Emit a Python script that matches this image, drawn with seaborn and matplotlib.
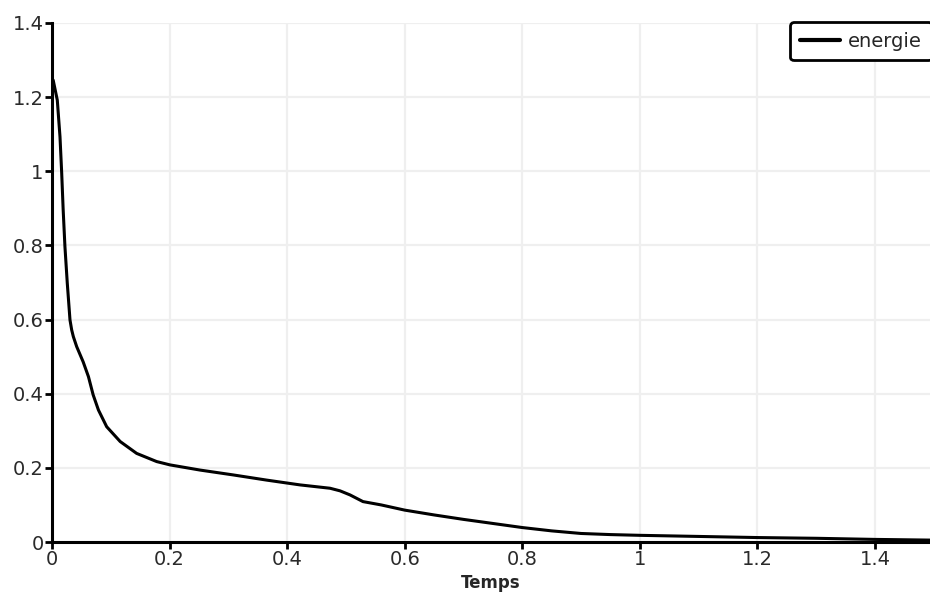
import numpy as np
import pandas as pd
import matplotlib
matplotlib.use("Agg")
import matplotlib.pyplot as plt
import seaborn as sns

temps = [0.0, 0.002, 0.009, 0.0136, 0.0165, 0.019, 0.022, 0.026, 0.0306, 0.0335,
         0.0363, 0.042, 0.053, 0.062, 0.070, 0.079, 0.093, 0.116, 0.144, 0.178,
         0.2007, 0.252, 0.308, 0.365, 0.422, 0.473, 0.49, 0.507, 0.529, 0.56,
         0.6, 0.65, 0.7, 0.75, 0.8, 0.85, 0.9, 0.95, 1.0, 1.1, 1.2, 1.3, 1.4, 1.5]
energie = [1.22, 1.246, 1.192, 1.093, 0.995, 0.896, 0.797, 0.698, 0.599, 0.572,
           0.554, 0.527, 0.486, 0.446, 0.397, 0.356, 0.311, 0.271, 0.239, 0.217,
           0.208, 0.194, 0.181, 0.167, 0.154, 0.145, 0.138, 0.127, 0.109, 0.1,
           0.086, 0.073, 0.061, 0.05, 0.039, 0.03, 0.023, 0.02, 0.018, 0.015,
           0.012, 0.01, 0.007, 0.005]
xticks = [0, 0.2, 0.4, 0.6, 0.8, 1, 1.2, 1.4]
yticks = [0, 0.2, 0.4, 0.6, 0.8, 1, 1.2, 1.4]

sns.set_theme(style="whitegrid")
plt.rcParams['font.family'] = ['DejaVu Sans']

df = pd.DataFrame({"Temps": temps, "energie": energie})

fig = plt.figure(figsize=(9.3, 5.97), dpi=100)
ax = fig.add_axes([52/930, 1-542/597, 1-52/930, (542-23)/597])

sns.lineplot(data=df, x="Temps", y="energie", ax=ax, color="black",
             linewidth=2.2, label="energie", solid_joinstyle="round",
             solid_capstyle="round")

ax.set_xlim(0, 1.4936)
ax.set_ylim(0, 1.4)
ax.set_xticks(xticks)
ax.set_yticks(yticks)
ax.set_xticklabels([f"{v:g}" for v in xticks])
ax.set_yticklabels([f"{v:g}" for v in yticks])
ax.grid(True, color="#efefef", linewidth=1.6)
ax.set_facecolor("white")

for side in ["top", "right"]:
    ax.spines[side].set_visible(False)
for side in ["left", "bottom"]:
    ax.spines[side].set_visible(True)
    ax.spines[side].set_color("black")
    ax.spines[side].set_linewidth(2.2)

ax.tick_params(axis="both", direction="out", length=5, width=2, color="black",
               labelsize=14, labelcolor="#2a2a2a", pad=1, bottom=True, left=True)
ax.set_xlabel("Temps", fontsize=12, fontweight="bold", labelpad=3)
ax.set_ylabel("")

leg = ax.legend(loc="upper left", bbox_to_anchor=((790-52)/878, 1.002),
                fontsize=14, frameon=True, fancybox=True, handlelength=2.05,
                borderpad=0.5, borderaxespad=0, handletextpad=0.45)
leg.get_frame().set_edgecolor("black")
leg.get_frame().set_linewidth(2)
leg.get_frame().set_alpha(1)
for line in leg.get_lines():
    line.set_linewidth(3)

fig.savefig("out.png", dpi=100)
